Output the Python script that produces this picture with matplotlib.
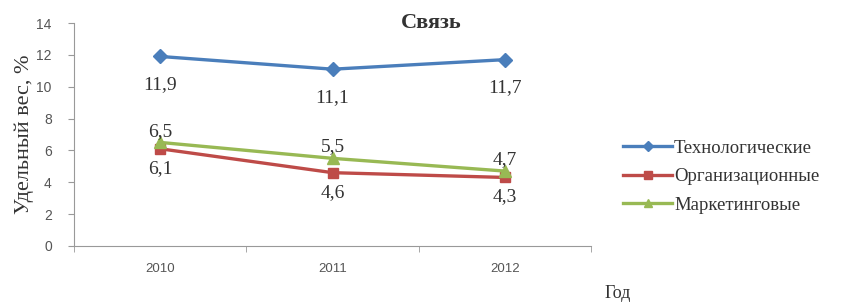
# Удельный вес инноваций по типам, отрасль "Связь"

import matplotlib.pyplot as plt

years = ["2010", "2011", "2012"]
tech = [11.9, 11.1, 11.7]
org = [6.1, 4.6, 4.3]
mark = [6.5, 5.5, 4.7]
names = ["Технологические", "Организационные", "Маркетинговые"]

fig = plt.figure(figsize=(8.42, 3.07), dpi=100)
ax = fig.add_axes([0.088, 0.199, 0.614, 0.726])

x = range(len(years))
ax.plot(x, tech, marker='D', markersize=7, color='#4a7ebb', linewidth=2.4, label=names[0])
ax.plot(x, org, marker='s', markersize=7, color='#be4b48', linewidth=2.4, label=names[1])
ax.plot(x, mark, marker='^', markersize=8, color='#98b954', linewidth=2.4, label=names[2])

serif = 'Liberation Serif'
for i in x:
    ax.annotate(str(tech[i]).replace('.', ','), (i, tech[i]), xytext=(0, -14), textcoords='offset points',
                ha='center', va='top', fontsize=14, family=serif, color='#333333')
    ax.annotate(str(org[i]).replace('.', ','), (i, org[i]), xytext=(0, -8), textcoords='offset points',
                ha='center', va='top', fontsize=14, family=serif, color='#333333')
    ax.annotate(str(mark[i]).replace('.', ','), (i, mark[i]), xytext=(0, 2), textcoords='offset points',
                ha='center', va='bottom', fontsize=14, family=serif, color='#333333')

ax.set_xlim(-0.5, 2.5)
ax.set_ylim(0, 14)
ax.set_yticks(range(0, 15, 2))
ax.set_xticks(list(x))
ax.set_xticklabels(years)
ax.set_xticks([-0.5, 0.5, 1.5, 2.5], minor=True)
ax.tick_params(axis='x', which='major', length=0, pad=12, labelsize=9.5, labelcolor='#555555')
ax.tick_params(axis='x', which='minor', length=4, color='#999999')
ax.tick_params(axis='y', length=4, pad=12, color='#999999', labelsize=10, labelcolor='#555555')
for lbl in ax.get_xticklabels() + ax.get_yticklabels():
    lbl.set_family('Liberation Sans')

for s in ['top', 'right']:
    ax.spines[s].set_visible(False)
ax.spines['left'].set_color('#999999')
ax.spines['bottom'].set_color('#999999')

ax.set_ylabel("Удельный вес, %", family=serif, fontsize=16, color='#333333', labelpad=2)
fig.text(0.512, 0.925, "Связь", family=serif, fontsize=16, fontweight='bold', color='#333333',
         ha='center', va='center')
fig.text(0.718, 0.045, "Год", family=serif, fontsize=13, color='#333333', ha='left', va='center')

ax.legend(loc='center left', bbox_to_anchor=(1.03, 0.31), frameon=False,
          prop={'family': serif, 'size': 13.5}, handlelength=2.6, labelspacing=0.6,
          handletextpad=0.1, markerscale=0.75, labelcolor='#333333')

plt.savefig("out.png")
